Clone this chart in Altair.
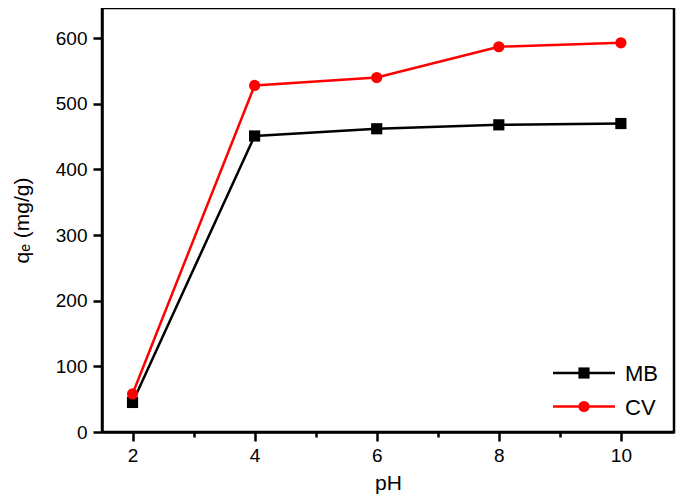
import altair as alt
import pandas as pd

ph = [2, 4, 6, 8, 10]
mb = [45, 451, 462, 468, 470]
cv = [58, 528, 540, 587, 593]
series_names = ["MB", "CV"]
series_colors = ["#000000", "#ff0000"]
series_shapes = ["square", "circle"]

df = pd.DataFrame({
    "pH": ph * 2,
    "qe": mb + cv,
    "series": ["MB"] * len(ph) + ["CV"] * len(ph),
    "order": [0] * len(ph) + [1] * len(ph),
})

FONT = "Liberation Sans"

xscale = alt.Scale(domain=[1.5, 10.87], nice=False, zero=False)
yscale = alt.Scale(domain=[0, 646], nice=False)
cscale = alt.Scale(domain=series_names, range=series_colors)
sscale = alt.Scale(domain=series_names, range=series_shapes)

xaxis = alt.Axis(
    values=[2, 3, 4, 5, 6, 7, 8, 9, 10],
    format="d",
    labelExpr="datum.value % 2 === 0 ? datum.label : ''",
    tickSize={"condition": {"test": "datum.value % 2 === 0", "value": 9}, "value": 5},
    grid=False, title="pH", labelPadding=5, titlePadding=7,
)
yaxis = alt.Axis(
    values=list(range(0, 601, 50)),
    format="d",
    labelExpr="datum.value % 100 === 0 ? datum.label : ''",
    tickSize={"condition": {"test": "datum.value % 100 === 0", "value": 9}, "value": 5},
    grid=False, title="qₑ (mg/g)", labelPadding=6, titlePadding=23,
)

base = alt.Chart(df)
lines = base.mark_line(strokeWidth=2.5).encode(
    x=alt.X("pH:Q", scale=xscale, axis=xaxis),
    y=alt.Y("qe:Q", scale=yscale, axis=yaxis),
    color=alt.Color("series:N", scale=cscale, legend=None),
    detail="series:N",
)
points = base.mark_point(filled=True, opacity=1, size=125).encode(
    x=alt.X("pH:Q", scale=xscale),
    y=alt.Y("qe:Q", scale=yscale),
    color=alt.Color("series:N", scale=cscale, legend=None),
    shape=alt.Shape("series:N", scale=sscale, legend=None),
    order="order:Q",
)

# manual legend
leg_layers = []
leg_y = [365, 398.5]
for name, col, shp, yy in zip(series_names, series_colors, series_shapes, leg_y):
    d = pd.DataFrame({"series": [name]})
    lc = alt.Chart(d)
    leg_layers.append(lc.mark_rule(color=col, strokeWidth=2.5).encode(
        x=alt.value(451), x2=alt.value(513), y=alt.value(yy)))
    leg_layers.append(lc.mark_point(filled=True, opacity=1, size=125, color=col, shape=shp).encode(
        x=alt.value(482), y=alt.value(yy)))
    leg_layers.append(lc.mark_text(align="left", baseline="middle", font=FONT, fontSize=22, color="black").encode(
        x=alt.value(523), y=alt.value(yy + 1), text="series:N"))

chart = alt.layer(lines, points, *leg_layers).properties(
    width=572, height=424,
    autosize=alt.AutoSizeParams(type="none"),
    padding={"left": 94, "top": 0, "right": 3, "bottom": 64},
).configure_view(
    stroke="black", strokeWidth=2.5,
).configure_axis(
    domainColor="black", domainWidth=2.5, tickColor="black", tickWidth=2.5,
    labelFont=FONT, labelFontSize=19, labelColor="black",
    titleFont=FONT, titleFontSize=21, titleFontWeight="normal", titleColor="black",
)

chart.save("out.html", embed_options={"renderer": "svg", "actions": False})
